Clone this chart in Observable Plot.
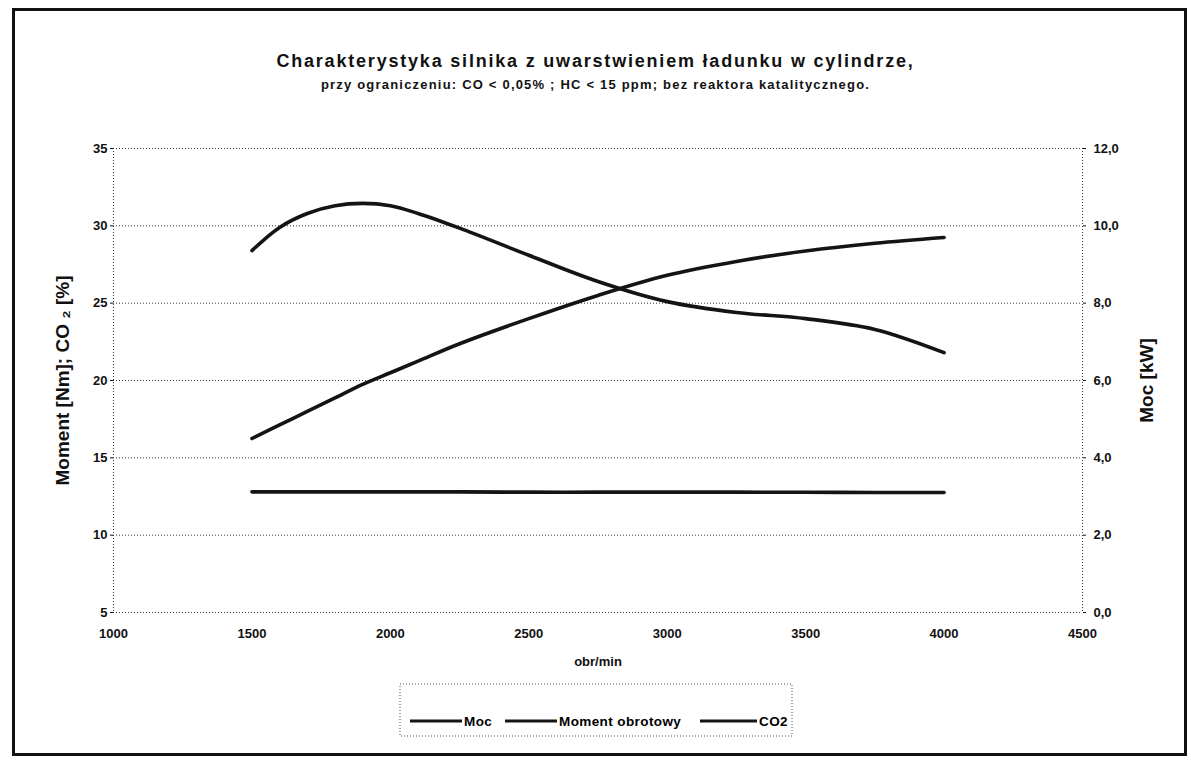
<!DOCTYPE html>
<html><head><meta charset="utf-8">
<script src="https://cdn.jsdelivr.net/npm/d3@7"></script>
<script src="https://cdn.jsdelivr.net/npm/@observablehq/plot@0.6"></script>
<style>
body{margin:0;background:#fff;font-family:Arial,"Liberation Sans",sans-serif;color:#111;}
#frame{position:absolute;left:12px;top:8px;width:1175px;height:748px;border:3px solid #111;box-sizing:border-box;}
#title{position:absolute;left:0;width:1191px;top:51px;text-align:center;font-weight:bold;font-size:18px;letter-spacing:1.8px;}
#subtitle{position:absolute;left:0;width:1191px;top:77px;text-align:center;font-weight:bold;font-size:13px;letter-spacing:1.2px;}
#chart{position:absolute;left:0;top:110px;}
#legend{position:absolute;left:0;top:680px;}
</style></head>
<body>
<div id="frame"></div>
<div id="title">Charakterystyka silnika z uwarstwieniem ładunku w cylindrze,</div>
<div id="subtitle">przy ograniczeniu: CO &lt; 0,05% ; HC &lt; 15 ppm; bez reaktora katalitycznego.</div>
<div id="chart"></div>
<div id="legend"></div>
<script>
const rpm    = [1500, 1600, 1700, 1800, 1900, 2000, 2100, 2250, 2500, 2750, 3000, 3250, 3500, 3750, 4000];
const moc    = [4.5, 4.85, 5.2, 5.55, 5.9, 6.2, 6.5, 6.95, 7.6, 8.2, 8.72, 9.08, 9.35, 9.55, 9.7];   // kW (right axis)
const moment = [28.4, 29.9, 30.8, 31.3, 31.45, 31.3, 30.8, 29.85, 28.1, 26.4, 25.1, 24.4, 24.0, 23.3, 21.8]; // Nm
const co2    = [12.8, 12.8, 12.8, 12.8, 12.8, 12.8, 12.8, 12.8, 12.78, 12.78, 12.78, 12.78, 12.77, 12.76, 12.76]; // %
const xTicks = [1000, 1500, 2000, 2500, 3000, 3500, 4000, 4500];
const yTicksLeft = [5, 10, 15, 20, 25, 30, 35];
const yTicksRight = [0, 2, 4, 6, 8, 10, 12];
const seriesNames = ["Moc", "Moment obrotowy", "CO2"];

// right axis (kW 0..12) mapped onto left axis (5..35)
const toLeft = kw => 5 + kw * 2.5;
const rows = [];
rpm.forEach((r, i) => {
  rows.push({rpm: r, v: toLeft(moc[i]), s: seriesNames[0]});
  rows.push({rpm: r, v: moment[i], s: seriesNames[1]});
  rows.push({rpm: r, v: co2[i], s: seriesNames[2]});
});
const font = 'Arial, "Liberation Sans", sans-serif';
const dotted = {stroke: "#333", strokeDasharray: "1,2", strokeWidth: 1};

const chart = Plot.plot({
  width: 1191, height: 570,
  marginLeft: 113, marginRight: 109, marginTop: 38, marginBottom: 68,
  style: {fontFamily: font, fontSize: "13px", fontWeight: "bold", background: "transparent", color: "#111"},
  x: {domain: [1000, 4500], label: null},
  y: {domain: [5, 35], label: null},
  marks: [
    Plot.ruleY(yTicksLeft, dotted),
    Plot.ruleX([1000, 4500], dotted),
    Plot.axisY(yTicksLeft, {anchor: "left", tickSize: 3, tickPadding: 3, label: null}),
    Plot.axisY(yTicksRight.map(toLeft), {anchor: "right", tickSize: 3, tickPadding: 8, label: null,
      tickFormat: d => ((d - 5) / 2.5).toFixed(1).replace(".", ",")}),
    Plot.axisX(xTicks, {tickSize: 0, tickPadding: 16, label: null, tickFormat: d => String(d)}),
    Plot.line(rows, {x: "rpm", y: "v", z: "s", stroke: "#141414", strokeWidth: 3.6, curve: "catmull-rom"}),
    Plot.text(["obr/min"], {frameAnchor: "bottom", dy: 53, fontSize: 13, fontWeight: "bold"}),
    Plot.text(["Moment [Nm]; CO ₂ [%]"], {frameAnchor: "left", dx: -51, rotate: -90, textAnchor: "middle",
      fontSize: 19, fontWeight: "bold", letterSpacing: "0.9px"}),
    Plot.text(["Moc [kW]"], {frameAnchor: "right", dx: 64, rotate: -90, textAnchor: "middle",
      fontSize: 19, fontWeight: "bold", letterSpacing: "1.3px"})
  ]
});
document.getElementById("chart").appendChild(chart);

// legend
const lg = d3.select("#legend").append("svg").attr("width", 1191).attr("height", 70)
  .style("font-family", font).style("font-weight", "bold").style("font-size", "13.5px");
lg.append("rect").attr("x", 400).attr("y", 4).attr("width", 392).attr("height", 52)
  .attr("fill", "none").attr("stroke", "#555").attr("stroke-dasharray", "1,2");
const items = [
  {name: seriesNames[0], x1: 410, x2: 462},
  {name: seriesNames[1], x1: 505, x2: 557},
  {name: seriesNames[2], x1: 700, x2: 757}
];
items.forEach(it => {
  lg.append("line").attr("x1", it.x1).attr("x2", it.x2).attr("y1", 41).attr("y2", 41)
    .attr("stroke", "#141414").attr("stroke-width", 3);
  lg.append("text").attr("x", it.x2 + 2).attr("y", 41).attr("dy", "0.35em")
    .style("letter-spacing", "0.4px").text(it.name);
});
</script>
</body></html>
